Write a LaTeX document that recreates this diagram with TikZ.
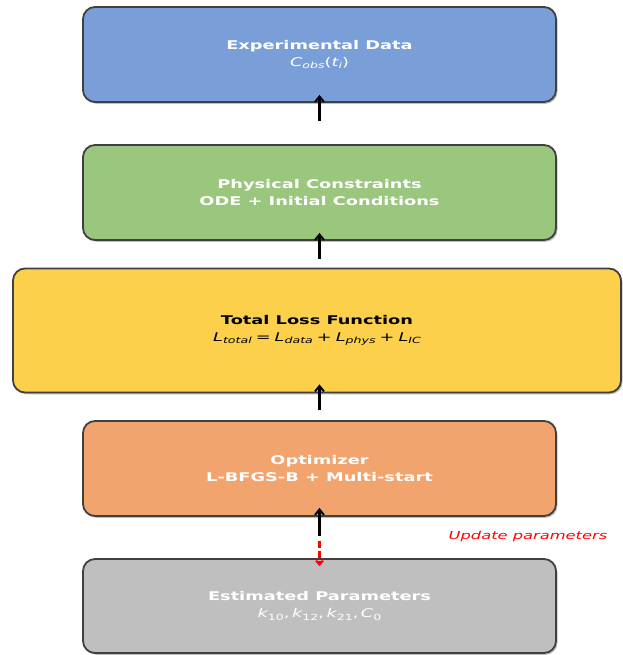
\documentclass[tikz,border=0pt]{standalone}
\usepackage{fontspec}
\setmainfont{DejaVu Sans}[FakeStretch=1.48]
\usetikzlibrary{arrows.meta,calc,shadows}
\definecolor{cblue}{RGB}{122,158,216}
\definecolor{cgreen}{RGB}{155,198,126}
\definecolor{cyellow}{RGB}{253,208,76}
\definecolor{corange}{RGB}{242,164,110}
\definecolor{cgray}{RGB}{191,191,191}
\definecolor{cedge}{RGB}{64,64,64}
\newcommand\sbs[1]{\raisebox{-2.3pt}{\fontsize{8.5}{8.5}\selectfont #1}}
\newcommand\up[1]{{\upshape #1}}
\newcommand\gap{\kern4pt}
\tikzset{
  box/.style={draw=cedge, line width=1.8pt, rounded corners=12pt,
    minimum width=473pt, minimum height=95pt, inner sep=0pt, align=center,
    text=white, font=\fontsize{12}{17}\selectfont\bfseries,
    drop shadow={shadow xshift=1.5pt, shadow yshift=-1.8pt, opacity=0.25, fill=black}},
  arr/.style={draw=black, line width=2.2pt, -{Straight Barb[length=5.5pt,width=9pt,line width=2pt]}},
  redarr/.style={draw=red, line width=2.2pt, dash pattern=on 7pt off 3pt, -{Straight Barb[length=4pt,width=7pt,line width=2pt]}}
}
\begin{document}
\begin{tikzpicture}[x=1pt,y=-1pt]
\useasboundingbox (0,0) rectangle (622,655);
\node[box, fill=cblue] (exp) at (319.5,54.5)
  {Experimental Data\\{\mdseries\itshape C\sbs{obs}\up{(}t\sbs{i}\up{)}}};
\node[box, fill=cgreen] (phys) at (319.5,192.5)
  {Physical Constraints\\ODE + Initial Conditions};
\node[box, fill=cyellow, minimum width=608pt, minimum height=124pt, text=black] (loss) at (317,330.5)
  {Total Loss Function\\{\mdseries\itshape L\sbs{total}\gap\up{=}\gap L\sbs{data}\gap\up{+}\gap L\sbs{phys}\gap\up{+}\gap L\sbs{IC}}};
\node[box, fill=corange] (opt) at (319.5,468.5)
  {Optimizer\\L-BFGS-B + Multi-start};
\node[box, fill=cgray, minimum height=94pt] (est) at (319.5,606)
  {Estimated Parameters\\{\mdseries\itshape k\sbs{\upshape 10}\up{,}\kern2.5pt k\sbs{\upshape 12}\up{,}\kern2.5pt k\sbs{\upshape 21}\up{,}\kern2.5pt C\sbs{\upshape 0}}};
\node[text=red, font=\fontsize{11}{13}\selectfont\itshape, anchor=center] (upd) at (528,536) {Update parameters};
\draw[arr] ($(phys.north)+(0,-23)$) -- ($(exp.south)+(0,-8)$);
\draw[arr] ($(loss.north)+(2.5,-9)$) -- ($(phys.south)+(0,-8)$);
\draw[arr] ($(opt.north)+(0,-10)$) -- ($(loss.south)+(2.5,-9)$);
\draw[arr] ($(opt.south)+(0,19)$) -- ($(opt.south)+(0,-9)$);
\draw[redarr] ($(opt.south)+(0,24)$) -- ($(est.north)+(0,8)$);
\end{tikzpicture}
\end{document}
